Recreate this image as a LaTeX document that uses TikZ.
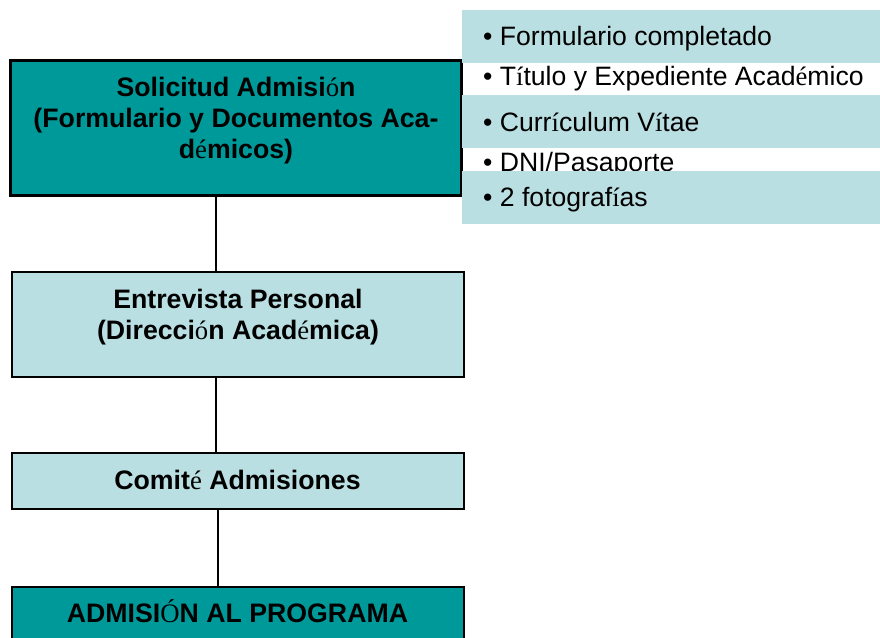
\documentclass[tikz,border=0pt]{standalone}
\usepackage{fontspec}
\setmainfont{Liberation Sans}
\newfontfamily\serifacc{Liberation Serif}
\newcommand\sacc[1]{{\serifacc\mdseries #1}}
\definecolor{tealbox}{HTML}{009999}
\definecolor{lightbox}{HTML}{BADFE2}
\begin{document}
\begin{tikzpicture}[x=1pt,y=-1pt,
  box/.style={draw=black, line width=2pt, inner sep=0pt, outer sep=0pt, anchor=north west},
  boxtext/.style={anchor=base, inner sep=0pt, font=\fontsize{26.7}{31}\selectfont\bfseries},
  itemtext/.style={anchor=base west, inner sep=0pt, font=\fontsize{26.6}{31}\selectfont},
  stripe/.style={fill=lightbox, draw=none, inner sep=0pt, outer sep=0pt, anchor=north west, minimum width=418pt, minimum height=53pt},
  link/.style={draw=black, line width=1.6pt}]
\useasboundingbox (0,0) rectangle (880,637);
\clip (0,0) rectangle (880,637);
\fill[white] (0,0) rectangle (880,637);

% left column boxes
\node[box, fill=tealbox, line width=3pt, minimum width=451pt, minimum height=135pt] (b1) at (10,60) {};
\node[box, fill=lightbox, minimum width=452pt, minimum height=105pt] (b2) at (12,272) {};
\node[box, fill=lightbox, minimum width=452pt, minimum height=56pt] (b3) at (12,453) {};
\node[box, fill=tealbox, minimum width=452pt, minimum height=80pt] (b4) at (12,587) {};

% connectors
\coordinate (k1) at (216,0);
\coordinate (k2) at (218,0);
\draw[link] (b1.south -| k1) -- (b2.north -| k1);
\draw[link] (b2.south -| k1) -- (b3.north -| k1);
\draw[link] (b3.south -| k2) -- (b4.north -| k2);

% box texts
\node[boxtext] (t1a) at (236,96) {Solicitud Admisi\sacc{ó}n};
\node[boxtext] (t1b) at (236,127) {(Formulario y Documentos Aca-};
\node[boxtext] (t1c) at (236,158) {d\sacc{é}micos)};
\node[boxtext] (t2a) at (238,308) {Entrevista Personal};
\node[boxtext] (t2b) at (238,339) {(Direcci\sacc{ó}n Acad\sacc{é}mica)};
\node[boxtext] (t3) at (237.5,489) {Comit\sacc{é} Admisiones};
\node[boxtext] (t4) at (237.5,622) {ADMISI\sacc{Ó}N AL PROGRAMA};

% requirement list
\node[stripe] (s1) at (462,10) {};
\node[stripe] (s3) at (462,95) {};
\node[itemtext] (i1) at (483,45) {• Formulario completado};
\node[itemtext] (i2) at (483,85) {• T\sacc{í}tulo y Expediente Acad\sacc{é}mico};
\node[itemtext] (i3) at (483,131) {• Curr\sacc{í}culum V\sacc{í}tae};
\node[itemtext] (i4) at (483,171) {• DNI/Pasaporte};
\node[stripe] (s5) at (462,171) {};
\node[itemtext] (i5) at (483,206) {• 2 fotograf\sacc{í}as};
\end{tikzpicture}
\end{document}
